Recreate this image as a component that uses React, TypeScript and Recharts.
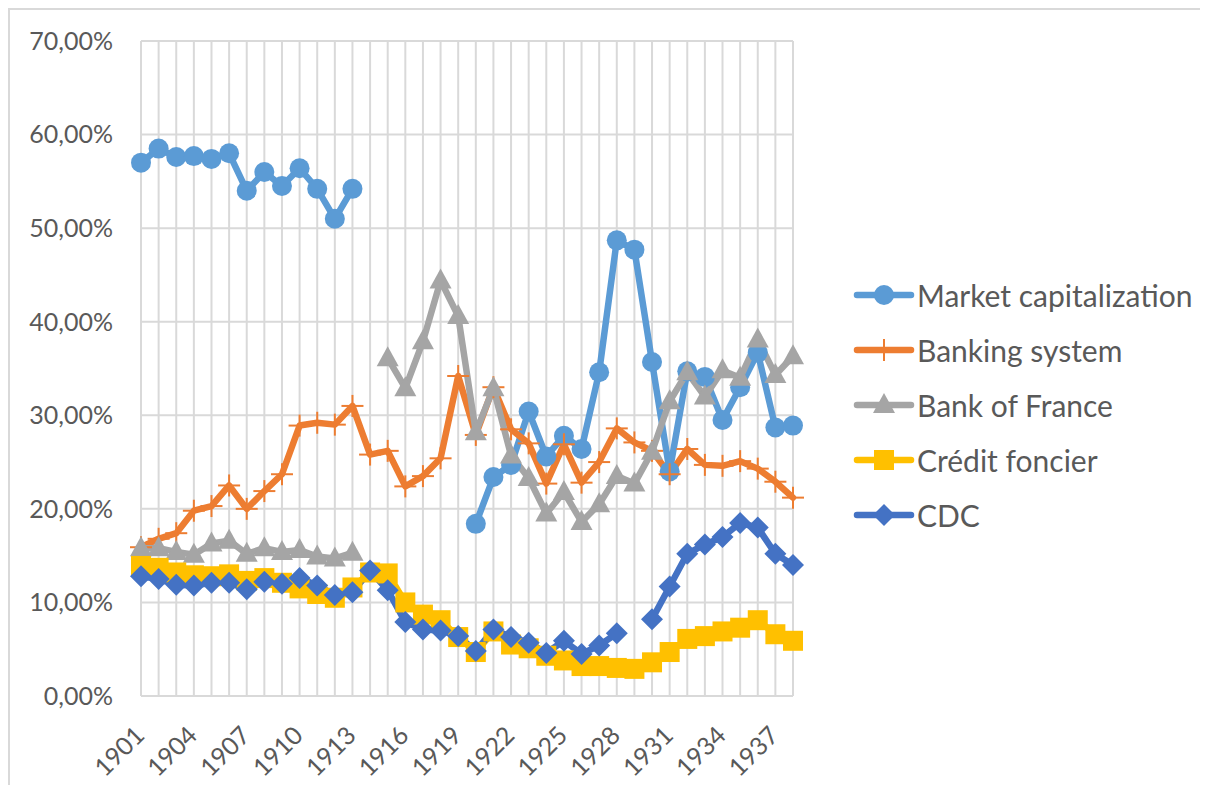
import React from 'react';
import { LineChart, Line, XAxis, YAxis, CartesianGrid, Legend } from 'recharts';

// categories
const years = [
  '1901', '1902', '1903', '1904', '1905', '1906', '1907', '1908', '1909', '1910',
  '1911', '1912', '1913', '1914', '1915', '1916', '1917', '1918', '1919', '1920',
  '1921', '1922', '1923', '1924', '1925', '1926', '1927', '1928', '1929', '1930',
  '1931', '1932', '1933', '1934', '1935', '1936', '1937', '1938',
];

// series values, in %
const marketCap = [
  57.0, 58.5, 57.6, 57.7, 57.4, 58.0, 54.0, 56.0, 54.5, 56.4,
  54.2, 51.0, 54.2, null, null, null, null, null, null, 18.4,
  23.4, 24.7, 30.4, 25.6, 27.8, 26.4, 34.6, 48.7, 47.7, 35.7,
  24.0, 34.7, 34.1, 29.5, 33.0, 36.7, 28.7, 28.9,
];
const bankingSystem = [
  15.9, 16.8, 17.4, 19.8, 20.3, 22.5, 20.0, 21.9, 23.7, 28.9,
  29.2, 29.0, 31.0, 25.8, 26.2, 22.4, 23.5, 25.4, 34.2, 27.9,
  33.0, 28.5, 27.0, 22.7, 26.9, 22.8, 25.0, 28.6, 27.1, 26.2,
  23.7, 26.4, 24.7, 24.6, 25.1, 24.3, 22.9, 21.2,
];
const bankOfFrance = [
  15.8, 15.8, 15.4, 15.1, 16.3, 16.6, 15.2, 15.8, 15.4, 15.6,
  14.9, 14.7, 15.3, null, 36.1, 32.9, 37.9, 44.4, 40.6, 28.2,
  32.9, 25.7, 23.3, 19.5, 21.8, 18.6, 20.5, 23.5, 22.7, 26.1,
  31.5, 34.6, 32.0, 34.8, 34.0, 38.1, 34.3, 36.3,
];
const creditFoncier = [
  13.9, 13.7, 13.2, 12.9, 12.8, 13.0, 12.3, 12.6, 12.1, 11.5,
  10.9, 10.5, 11.6, 13.2, 13.1, 10.0, 8.7, 8.1, 6.3, 4.7,
  6.9, 5.5, 5.1, 4.3, 3.8, 3.2, 3.2, 3.0, 2.9, 3.6,
  4.7, 6.1, 6.4, 6.9, 7.3, 8.1, 6.6, 5.9,
];
const cdc = [
  12.8, 12.5, 11.9, 11.8, 12.1, 12.1, 11.4, 12.2, 12.0, 12.6,
  11.8, 10.8, 11.1, 13.4, 11.3, 7.9, 7.1, 7.0, 6.4, 4.8,
  7.1, 6.3, 5.7, 4.6, 5.9, 4.5, 5.4, 6.7, null, 8.2,
  11.7, 15.2, 16.2, 17.0, 18.5, 18.0, 15.2, 14.0,
];

const yTicks = [0, 10, 20, 30, 40, 50, 60, 70];

const data = years.map((year, i) => ({
  year,
  marketCap: marketCap[i],
  banking: bankingSystem[i],
  bof: bankOfFrance[i],
  cf: creditFoncier[i],
  cdc: cdc[i],
}));

const FONT = 'Lato, "Noto Sans", sans-serif';
const TEXT = '#595959';
const GRID = '#d9d9d9';

type Shape = 'circle' | 'cross' | 'triangle' | 'square' | 'diamond';

const series: { key: string; name: string; color: string; shape: Shape }[] = [
  { key: 'marketCap', name: 'Market capitalization', color: '#5B9BD5', shape: 'circle' },
  { key: 'banking', name: 'Banking system', color: '#ED7D31', shape: 'cross' },
  { key: 'bof', name: 'Bank of France', color: '#A5A5A5', shape: 'triangle' },
  { key: 'cf', name: 'Crédit foncier', color: '#FFC000', shape: 'square' },
  { key: 'cdc', name: 'CDC', color: '#4472C4', shape: 'diamond' },
];

function Marker({ shape, cx, cy, color }: { shape: Shape; cx: number; cy: number; color: string }) {
  switch (shape) {
    case 'circle':
      return <circle cx={cx} cy={cy} r={10} fill={color} />;
    case 'cross':
      return (
        <g stroke={color} strokeWidth={2}>
          <line x1={cx - 11} y1={cy} x2={cx + 11} y2={cy} />
          <line x1={cx} y1={cy - 11} x2={cx} y2={cy + 11} />
        </g>
      );
    case 'triangle':
      return <polygon points={`${cx},${cy - 12} ${cx + 11},${cy + 8} ${cx - 11},${cy + 8}`} fill={color} />;
    case 'square':
      return <rect x={cx - 10} y={cy - 10} width={20} height={20} fill={color} />;
    default:
      return <polygon points={`${cx},${cy - 11} ${cx + 11},${cy} ${cx},${cy + 11} ${cx - 11},${cy}`} fill={color} />;
  }
}

const makeDot = (shape: Shape, color: string) => (props: any) => {
  const { cx, cy, value, index } = props;
  if (value == null || cx == null || cy == null || isNaN(cy)) return <g key={`e-${index}`} />;
  return (
    <g key={`d-${index}`}>
      <Marker shape={shape} cx={cx} cy={cy} color={color} />
    </g>
  );
};

// only every third year gets a label, but every year keeps its gridline
const XTick = (props: any) => {
  const { x, y, payload, index } = props;
  if (index % 3 !== 0) return <g />;
  const ax = x + 5;
  const ay = y + 41;
  return (
    <text
      x={ax}
      y={ay}
      transform={`rotate(-45, ${ax}, ${ay})`}
      textAnchor="end"
      fill={TEXT}
      fontSize={25}
      fontFamily={FONT}
    >
      {payload.value}
    </text>
  );
};

const LegendContent = () => (
  <div style={{ fontFamily: FONT }}>
    {series.map((s) => (
      <div key={s.key} style={{ display: 'flex', alignItems: 'center', height: 54.8 }}>
        <svg width={62} height={26} style={{ display: 'block' }}>
          <line x1={4} y1={13} x2={58} y2={13} stroke={s.color} strokeWidth={6.5} strokeLinecap="round" />
          <Marker shape={s.shape} cx={31} cy={13} color={s.color} />
        </svg>
        <span style={{ fontSize: 30, color: TEXT, marginLeft: 2, whiteSpace: 'nowrap' }}>{s.name}</span>
      </div>
    ))}
  </div>
);

export default function App() {
  return (
    <div
      style={{
        width: 1198,
        height: 775,
        borderTop: `2px solid ${GRID}`,
        borderLeft: `2px solid ${GRID}`,
        background: '#fff',
        overflow: 'hidden',
      }}
    >
      <LineChart
        width={1190}
        height={772}
        data={data}
        margin={{ top: 31, right: 407, bottom: 0, left: 0 }}
        style={{ outline: 'none' }}
      >
        <CartesianGrid stroke={GRID} strokeWidth={2} />
        <XAxis
          dataKey="year"
          interval={0}
          height={86}
          tickLine={false}
          tickSize={0}
          tickMargin={0}
          axisLine={{ stroke: GRID, strokeWidth: 2 }}
          tick={<XTick />}
        />
        <YAxis
          width={131}
          domain={[0, 70]}
          ticks={yTicks}
          axisLine={false}
          tickLine={false}
          tickSize={0}
          tickMargin={28}
          tickFormatter={(v: number) => `${v.toFixed(2).replace('.', ',')}%`}
          tick={{ fill: TEXT, fontSize: 25, fontFamily: FONT }}
        />
        <Legend
          layout="vertical"
          align="center"
          verticalAlign="middle"
          content={<LegendContent />}
          wrapperStyle={{ left: 843, top: 258, width: 347 }}
        />
        {series.map((s) => (
          <Line
            key={s.key}
            type="linear"
            dataKey={s.key}
            name={s.name}
            stroke={s.color}
            strokeWidth={6.5}
            strokeLinejoin="round"
            strokeLinecap="round"
            dot={makeDot(s.shape, s.color)}
            activeDot={false}
            isAnimationActive={false}
          />
        ))}
      </LineChart>
    </div>
  );
}
